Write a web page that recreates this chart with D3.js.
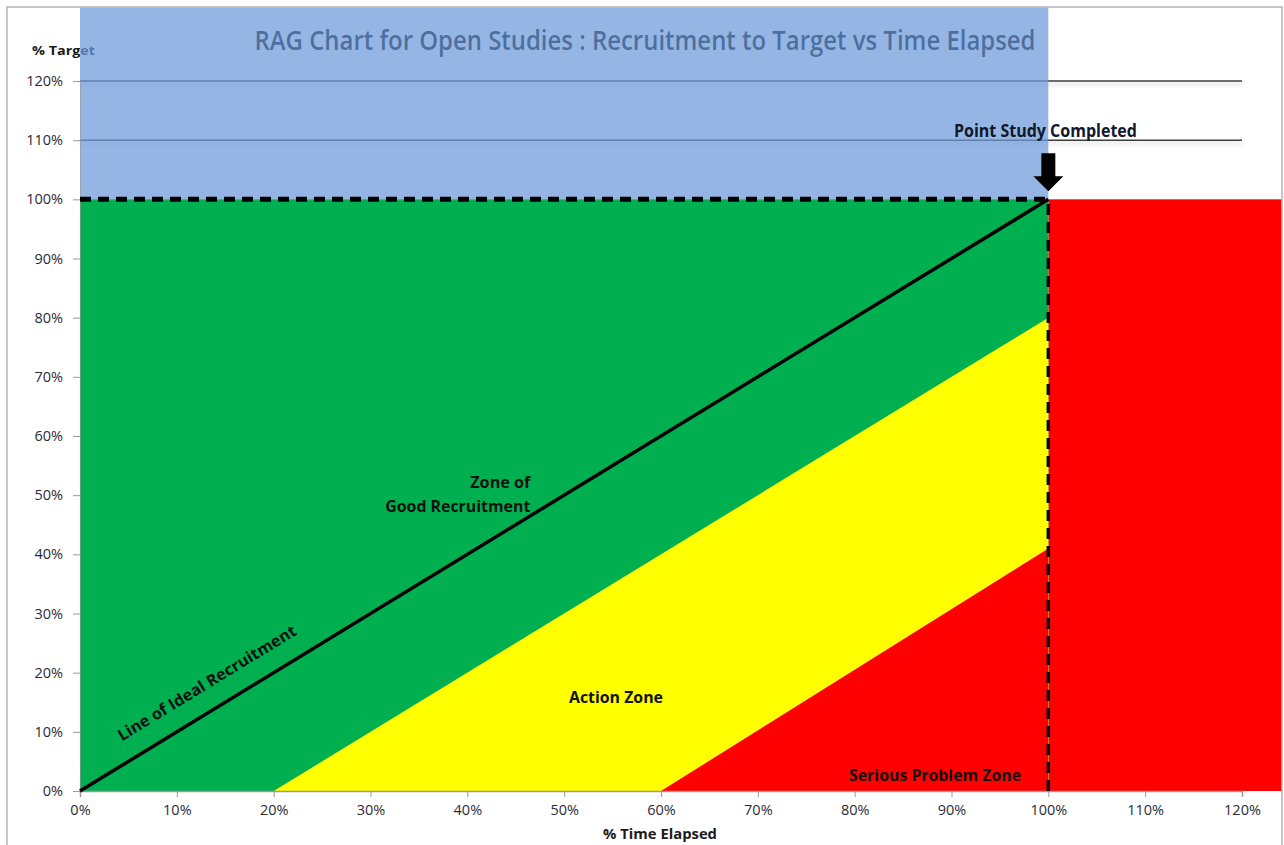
<!DOCTYPE html>
<html>
<head>
<meta charset="utf-8">
<title>RAG Chart</title>
<script src="https://cdn.jsdelivr.net/npm/d3@7"></script>
<style>
  body { margin: 0; background: #fff; }
  svg { display: block; font-family: "Open Sans", "Liberation Sans", sans-serif; }
  .zone-label { font-size: 16px; font-weight: bold; fill: #111; }
</style>
</head>
<body>
<svg width="1284" height="845"></svg>
<script>
// axis ticks (percent)
var xTicks = [0, 10, 20, 30, 40, 50, 60, 70, 80, 90, 100, 110, 120];
var yTicks = [0, 10, 20, 30, 40, 50, 60, 70, 80, 90, 100, 110, 120];
var gridValues = [110, 120];

// zones, [time elapsed %, target %]
var greenZone = [[0, 0], [0, 100], [100, 100], [100, 0]];
var yellowZone = [[20, 0], [100, 80], [100, 0]];
var redZone = [[60, 0], [100, 41], [100, 0]];
var idealLine = [[0, 0], [100, 100]];
var completedX = 100;
var targetY = 100;

var svg = d3.select("svg"),
    width = +svg.attr("width"),
    height = +svg.attr("height");

var x = d3.scaleLinear().domain([0, 120]).range([80, 1242]);
var y = d3.scaleLinear().domain([0, 120]).range([791, 81]);

var frameLeft = 7, frameTop = 7, frameRight = 1282;

var defs = svg.append("defs");
defs.append("filter").attr("id", "shadow")
    .attr("filterUnits", "userSpaceOnUse")
    .attr("x", 0).attr("y", 0).attr("width", width).attr("height", height)
  .append("feDropShadow")
    .attr("dx", 0).attr("dy", 3).attr("stdDeviation", 2)
    .attr("flood-color", "#000").attr("flood-opacity", 0.2);

// outer frame
svg.append("rect")
    .attr("x", frameLeft).attr("y", frameTop)
    .attr("width", frameRight - frameLeft).attr("height", height)
    .attr("fill", "#fff").attr("stroke", "#b4b4b4").attr("stroke-width", 1.5);

// text that sits under the translucent blue band
svg.append("text")
    .attr("x", 645).attr("y", 50)
    .attr("text-anchor", "middle")
    .attr("font-size", 27).attr("font-weight", 600)
    .attr("textLength", 781).attr("lengthAdjust", "spacingAndGlyphs")
    .attr("fill", "#000")
    .text("RAG Chart for Open Studies : Recruitment to Target vs Time Elapsed");

svg.append("text")
    .attr("x", 32).attr("y", 55)
    .attr("font-size", 13).attr("font-weight", "bold")
    .attr("textLength", 63).attr("lengthAdjust", "spacingAndGlyphs")
    .attr("fill", "#1a1a1a")
    .text("% Target");

// gridlines above 100%
svg.append("g").selectAll("line")
    .data(gridValues)
    .enter().append("line")
    .attr("x1", x(0)).attr("x2", x(120))
    .attr("y1", function(d) { return y(d); })
    .attr("y2", function(d) { return y(d); })
    .attr("stroke", "#3c3c3c").attr("stroke-width", 1.5)
    .attr("filter", "url(#shadow)");

// blue band above target
svg.append("rect")
    .attr("x", x(0)).attr("y", frameTop + 0.75)
    .attr("width", x(completedX) - x(0))
    .attr("height", y(targetY) - frameTop - 0.75)
    .attr("fill", "rgb(108,154,219)").attr("fill-opacity", 0.72);

var line = d3.line()
    .x(function(d) { return x(d[0]); })
    .y(function(d) { return y(d[1]); });

// red block after study completion
svg.append("rect")
    .attr("x", x(completedX)).attr("y", y(targetY))
    .attr("width", frameRight - 0.75 - x(completedX))
    .attr("height", y(0) - y(targetY))
    .attr("fill", "#ff0000");

svg.append("path").datum(greenZone).attr("d", line.curve(d3.curveLinearClosed)).attr("fill", "#00b050");
svg.append("path").datum(yellowZone).attr("d", line).attr("fill", "#ffff00");
svg.append("path").datum(redZone).attr("d", line).attr("fill", "#ff0000");
line.curve(d3.curveLinear);

// axes
var xAxis = d3.axisBottom(x).tickValues(xTicks).tickSize(6).tickPadding(8)
    .tickFormat(function(d) { return d + "%"; });
var gx = svg.append("g").attr("transform", "translate(0," + y(0) + ")").call(xAxis);
gx.select(".domain").attr("stroke", "#9a9a9a").attr("stroke-width", 1.5);
gx.selectAll(".tick line").attr("stroke", "#9a9a9a");

var yAxis = d3.axisLeft(y).tickValues(yTicks).tickSize(7).tickPadding(10)
    .tickFormat(function(d) { return d + "%"; });
var gy = svg.append("g").attr("transform", "translate(" + x(0) + ",0)").call(yAxis);
gy.select(".domain").attr("stroke", "#9a9a9a").attr("stroke-opacity", 0.6);
gy.selectAll(".tick line").attr("stroke", "#9a9a9a");
svg.selectAll(".tick text")
    .attr("font-family", "Open Sans, Liberation Sans, sans-serif")
    .attr("font-size", 14.5)
    .attr("fill", "#2b2b3a");

// target and completion dashed lines
svg.append("path")
    .datum([[0, targetY], [completedX, targetY]])
    .attr("d", line)
    .attr("stroke", "#000").attr("stroke-width", 5)
    .attr("stroke-dasharray", "11,7").attr("fill", "none");
svg.append("path")
    .datum([[completedX, 0], [completedX, targetY]])
    .attr("d", line)
    .attr("stroke", "#000").attr("stroke-width", 3.5)
    .attr("stroke-dasharray", "11,7").attr("fill", "none");

// line of ideal recruitment
svg.append("path")
    .datum(idealLine)
    .attr("d", line)
    .attr("stroke", "#000").attr("stroke-width", 3.5).attr("fill", "none");

// arrow marking the completion point
var ax = x(completedX), tip = y(targetY) - 8;
svg.append("path")
    .attr("d", "M" + (ax - 7) + "," + (tip - 38) + "H" + (ax + 7) + "V" + (tip - 15) +
               "H" + (ax + 15) + "L" + ax + "," + tip + "L" + (ax - 15) + "," + (tip - 15) +
               "H" + (ax - 7) + "Z")
    .attr("fill", "#000");

svg.append("text")
    .attr("x", x(99.7)).attr("y", y(110.5))
    .attr("text-anchor", "middle")
    .attr("font-size", 17).attr("font-weight", "bold")
    .attr("textLength", 183).attr("lengthAdjust", "spacingAndGlyphs")
    .attr("fill", "#10182a")
    .text("Point Study Completed");

// zone labels
svg.append("text").attr("class", "zone-label")
    .attr("x", x(46.5)).attr("y", y(51.2)).attr("text-anchor", "end")
    .attr("textLength", 60).attr("lengthAdjust", "spacingAndGlyphs")
    .text("Zone of");
svg.append("text").attr("class", "zone-label")
    .attr("x", x(46.5)).attr("y", y(47.2)).attr("text-anchor", "end")
    .attr("textLength", 145).attr("lengthAdjust", "spacingAndGlyphs")
    .text("Good Recruitment");
svg.append("text").attr("class", "zone-label")
    .attr("x", x(55.35)).attr("y", y(14.9)).attr("text-anchor", "middle")
    .attr("textLength", 94).attr("lengthAdjust", "spacingAndGlyphs")
    .text("Action Zone");
svg.append("text").attr("class", "zone-label")
    .attr("x", x(88.3)).attr("y", y(1.7)).attr("text-anchor", "middle")
    .attr("textLength", 172).attr("lengthAdjust", "spacingAndGlyphs")
    .text("Serious Problem Zone");

var angle = Math.atan2(y(0) - y(100), x(100) - x(0)) * 180 / Math.PI;
svg.append("text").attr("class", "zone-label")
    .attr("transform", "translate(" + x(13.1) + "," + y(18.25) + ") rotate(" + (-angle) + ")")
    .attr("text-anchor", "middle").attr("dy", "0.35em")
    .attr("textLength", 206).attr("lengthAdjust", "spacingAndGlyphs")
    .text("Line of Ideal Recruitment");

svg.append("text")
    .attr("x", 660).attr("y", 839)
    .attr("text-anchor", "middle")
    .attr("font-size", 14).attr("font-weight", "bold")
    .attr("textLength", 114).attr("lengthAdjust", "spacingAndGlyphs")
    .attr("fill", "#1a1a1a")
    .text("% Time Elapsed");
</script>
</body>
</html>
